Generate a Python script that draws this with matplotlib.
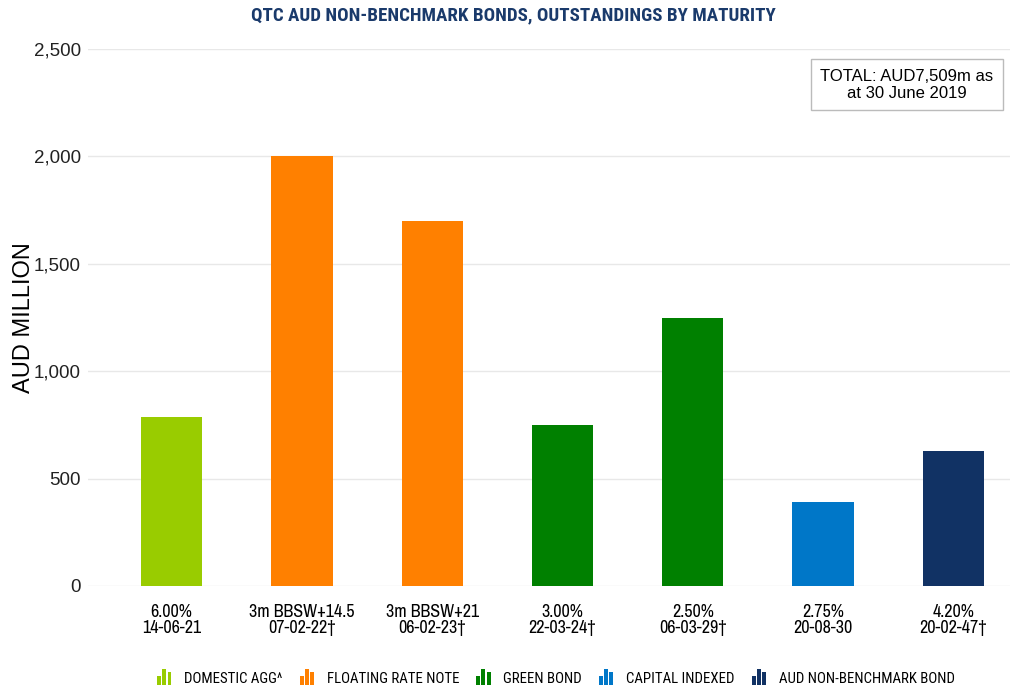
import matplotlib
matplotlib.use("Agg")
import matplotlib.pyplot as plt
from matplotlib.patches import Rectangle
from matplotlib.legend_handler import HandlerBase
from matplotlib.ticker import FuncFormatter

categories = ["6.00%\n14-06-21", "3m BBSW+14.5\n07-02-22†", "3m BBSW+21\n06-02-23†",
              "3.00%\n22-03-24†", "2.50%\n06-03-29†", "2.75%\n20-08-30", "4.20%\n20-02-47†"]
values = [787, 2000, 1700, 750, 1250, 392, 630]
bar_groups = ["DOMESTIC AGG^", "FLOATING RATE NOTE", "FLOATING RATE NOTE", "GREEN BOND",
              "GREEN BOND", "CAPITAL INDEXED", "AUD NON-BENCHMARK BOND"]
legend_labels = ["DOMESTIC AGG^", "FLOATING RATE NOTE", "GREEN BOND", "CAPITAL INDEXED",
                 "AUD NON-BENCHMARK BOND"]
group_colors = {"DOMESTIC AGG^": "#99CC00", "FLOATING RATE NOTE": "#FF8000",
                "GREEN BOND": "#008000", "CAPITAL INDEXED": "#0077C8",
                "AUD NON-BENCHMARK BOND": "#113264"}

narrow = ["Archivo Narrow", "Liberation Sans", "DejaVu Sans"]
cond = ["Roboto Condensed", "Liberation Sans", "DejaVu Sans"]
regular = ["Liberation Sans", "DejaVu Sans"]

fig = plt.figure(figsize=(10.10, 6.89), dpi=100)
ax = fig.add_axes([88/1010, 1-586/689, 1-88/1010, (586-49)/689])

x = list(range(len(values)))
ax.bar(x, values, width=0.47, color=[group_colors[g] for g in bar_groups], zorder=3)
ax.set_xlim(-0.642, 6.435)
ax.set_ylim(0, 2500)
ax.set_yticks([0, 500, 1000, 1500, 2000, 2500])
ax.yaxis.set_major_formatter(FuncFormatter(lambda v, p: f"{int(v):,}"))
ax.grid(axis="y", color="#E8E8E8", linewidth=1, zorder=0)
for s in ax.spines.values():
    s.set_visible(False)
ax.tick_params(axis="y", length=0, pad=5, labelsize=13.5)
for t in ax.get_yticklabels():
    t.set_family(regular)
    t.set_color("#222222")
ax.set_xticks(x)
ax.set_xticklabels(categories, family=narrow, fontsize=13, linespacing=1.0)
ax.tick_params(axis="x", length=0, pad=13)

fig.text(24/1010, 1-318/689, "AUD MILLION", rotation=90, ha="center", va="center",
         family=regular, fontsize=17)

title = fig.text(513/1010, 1-15/689, "QTC AUD NON-BENCHMARK BONDS, OUTSTANDINGS BY MATURITY",
                 ha="center", va="center", family=cond, fontsize=13, fontweight="bold",
                 color="#1A3A6B")

fig.text(907/1010, 1-85/689, "TOTAL: AUD7,509m as\nat 30 June 2019", ha="center", va="center",
         family=regular, fontsize=12, linespacing=1.15)
fig.patches.append(Rectangle((811/1010, 1-110/689), 192/1010, 51/689,
                             transform=fig.transFigure, facecolor="white",
                             edgecolor="#BBBBBB", linewidth=1, zorder=0))


class BarIconHandler(HandlerBase):
    def create_artists(self, legend, orig_handle, xdescent, ydescent, width, height, fontsize, trans):
        c = orig_handle.get_facecolor()
        bw = width / 3.6
        gap = (width - 3 * bw) / 2
        hs = [0.6, 1.0, 0.8]
        arts = []
        for i, h in enumerate(hs):
            r = Rectangle((xdescent + i * (bw + gap), -ydescent - 1), bw, height * 1.35 * h,
                          facecolor=c, edgecolor="none", transform=trans)
            arts.append(r)
        return arts


handles = [Rectangle((0, 0), 1, 1, facecolor=group_colors[l]) for l in legend_labels]


def make_legend(size):
    return fig.legend(handles, legend_labels, loc="center", bbox_to_anchor=(556/1010, 1-679/689),
                      ncol=5, frameon=False, handler_map={Rectangle: BarIconHandler()},
                      handlelength=0.95, handleheight=0.85, handletextpad=0.85, columnspacing=1.15,
                      borderpad=0, borderaxespad=0,
                      prop={"family": cond, "size": size})


fig.canvas.draw()
r = fig.canvas.get_renderer()
# fit title width
w = title.get_window_extent(r).width
title.set_fontsize(13 * 521 / w)
# fit legend width
size = 12
leg = make_legend(size)
fig.canvas.draw()
w = leg.get_window_extent(r).width
leg.remove()
size = size * 798 / w
leg = make_legend(size)

fig.savefig("out.png", dpi=100, facecolor="white")
